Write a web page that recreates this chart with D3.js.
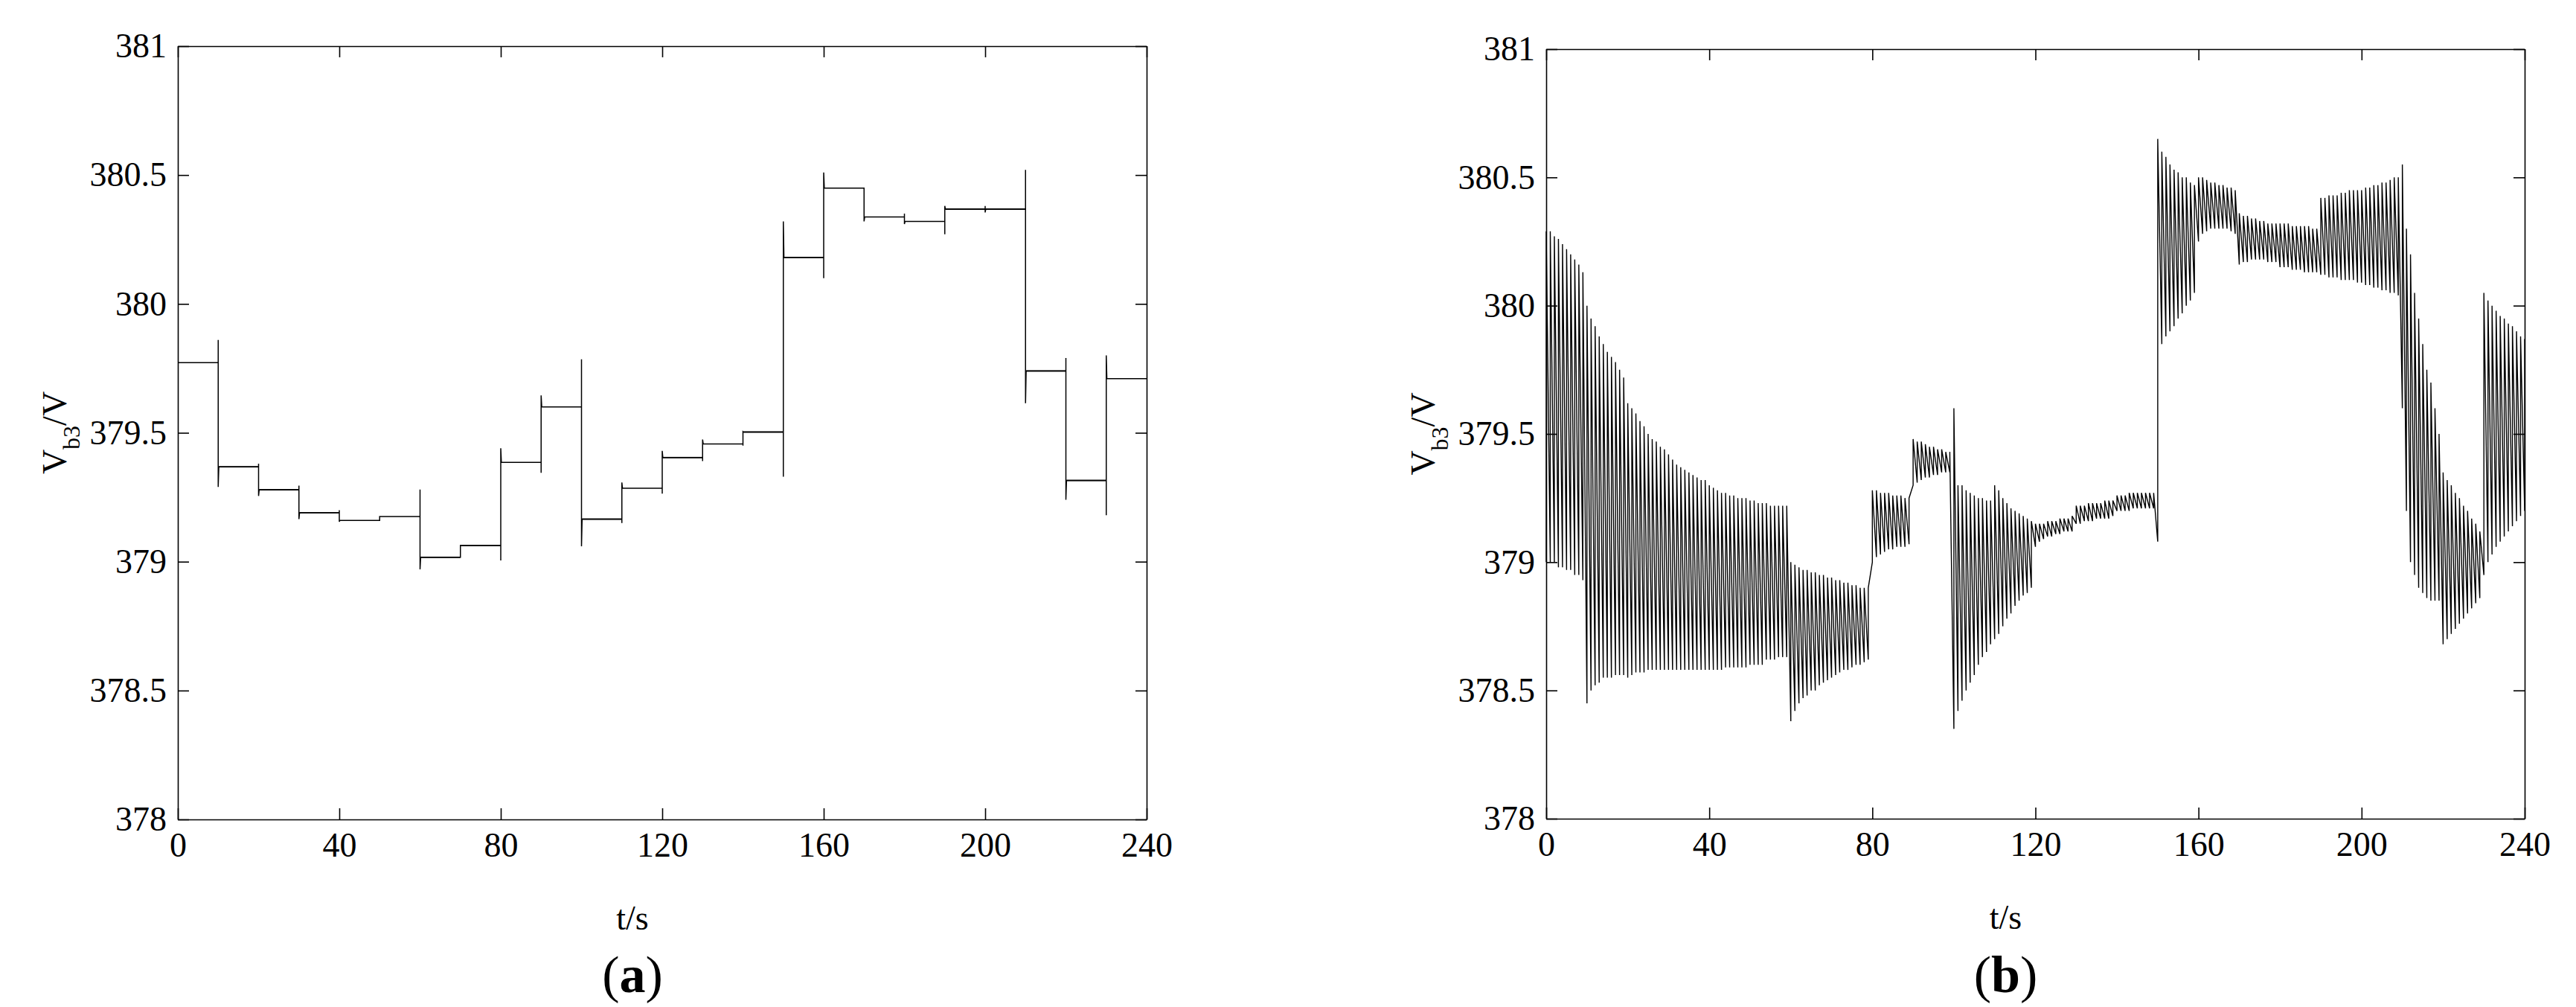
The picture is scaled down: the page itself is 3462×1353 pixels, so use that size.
<!DOCTYPE html>
<html>
<head>
<meta charset="utf-8">
<script src="https://cdn.jsdelivr.net/npm/d3@7"></script>
<style>
  body { margin: 0; background: #fff; }
</style>
</head>
<body>
<svg id="fig" width="3462" height="1353" font-family="'Times New Roman', 'Liberation Serif', serif"></svg>
<script>
// ---- data, panel (a): stepwise bus voltage, one level per 10 s interval
const segStartA = [0, 10, 20, 30, 40, 50, 60, 70, 80, 90, 100, 110, 120, 130, 140, 150, 160, 170, 180, 190, 200, 210, 220, 230];
const levelA = [379.772, 379.368, 379.279, 379.19, 379.16, 379.175, 379.017, 379.063, 379.385, 379.6, 379.165, 379.285,
                379.404, 379.457, 379.503, 380.18, 380.449, 380.337, 380.32, 380.368, 380.368, 379.74, 379.315, 379.71];
// transient extremes at each switching instant (first then second excursion)
const spikeFirstA = [null, 379.86, 379.38, 379.295, 379.2, 379.16, 379.28, 379.017, 379.005, 379.345, 379.785, 379.15,
                     379.264, 379.39, 379.45, 379.33, 380.1, 380.449, 380.35, 380.27, 380.38, 380.52, 379.79, 379.18];
const spikeSecondA = [null, 379.29, 379.255, 379.165, 379.155, 379.175, 378.97, 379.063, 379.44, 379.645, 379.06, 379.307,
                      379.43, 379.474, 379.505, 380.32, 380.51, 380.32, 380.31, 380.38, 380.355, 379.615, 379.24, 379.8];
// small ripple amplitude (V) around each level
const rippleA = [0, 0.0025, 0.0025, 0.0025, 0, 0, 0.0025, 0.0025, 0, 0, 0.0025, 0, 0.0025, 0, 0.0025, 0.0025,
                 0, 0, 0, 0.0025, 0.0025, 0.0025, 0.0025, 0];

// ---- data, panel (b): oscillating bus voltage, peak and trough of each 1 s cycle (t = 0..240 s)
const peakB = [
  380.29, 380.29, 380.27, 380.26, 380.24, 380.22, 380.2, 380.18, 380.16, 380.13,
  380.0, 379.95, 379.92, 379.88, 379.85, 379.82, 379.8, 379.78, 379.75, 379.72,
  379.62, 379.6, 379.58, 379.55, 379.53, 379.5, 379.48, 379.47, 379.45, 379.44,
  379.42, 379.4, 379.38, 379.37, 379.36, 379.35, 379.34, 379.33, 379.32, 379.32,
  379.3, 379.29, 379.28, 379.27, 379.27, 379.26, 379.26, 379.25, 379.25, 379.25,
  379.24, 379.24, 379.23, 379.23, 379.23, 379.22, 379.22, 379.22, 379.22, 379.22,
  379.0, 378.99, 378.98, 378.97, 378.97, 378.96, 378.96, 378.95, 378.95, 378.94,
  378.94, 378.93, 378.93, 378.92, 378.92, 378.91, 378.91, 378.9, 378.9, 378.9,
  379.28, 379.28, 379.27, 379.27, 379.27, 379.26, 379.26, 379.26, 379.25, 379.25,
  379.48, 379.47, 379.47, 379.46, 379.45, 379.45, 379.44, 379.44, 379.43, 379.43,
  379.6, 379.3, 379.3, 379.28, 379.27, 379.26, 379.25, 379.25, 379.24, 379.24,
  379.3, 379.28, 379.25, 379.23, 379.21, 379.2, 379.19, 379.18, 379.17, 379.16,
  379.15, 379.15, 379.15, 379.16, 379.16, 379.16, 379.17, 379.17, 379.17, 379.18,
  379.22, 379.22, 379.22, 379.23, 379.23, 379.23, 379.23, 379.24, 379.24, 379.24,
  379.26, 379.26, 379.26, 379.27, 379.27, 379.27, 379.27, 379.27, 379.27, 379.27,
  380.65, 380.6, 380.58, 380.55, 380.53, 380.52, 380.5, 380.5, 380.48, 380.47,
  380.5, 380.5, 380.49, 380.48, 380.48, 380.47, 380.47, 380.46, 380.46, 380.45,
  380.36, 380.35, 380.35, 380.34, 380.34, 380.33, 380.33, 380.32, 380.32, 380.32,
  380.32, 380.32, 380.32, 380.31, 380.31, 380.31, 380.31, 380.31, 380.3, 380.3,
  380.42, 380.42, 380.43, 380.43, 380.43, 380.44, 380.44, 380.45, 380.45, 380.45,
  380.45, 380.46, 380.46, 380.47, 380.47, 380.48, 380.48, 380.49, 380.5, 380.5,
  380.55, 380.3, 380.2, 380.05, 379.95, 379.85, 379.75, 379.7, 379.6, 379.5,
  379.35, 379.32, 379.3, 379.27, 379.25, 379.22, 379.2, 379.17, 379.15, 379.12,
  380.05, 380.02, 380.0, 379.98, 379.96, 379.95, 379.93, 379.92, 379.9, 379.88, 379.87
];
const troughB = [
  379.0, 379.0, 379.0, 378.98, 378.98, 378.97, 378.97, 378.95, 378.95, 378.93,
  378.45, 378.5, 378.52, 378.53, 378.55, 378.55, 378.55, 378.56, 378.56, 378.56,
  378.55, 378.56, 378.57, 378.57, 378.57, 378.58, 378.58, 378.58, 378.58, 378.58,
  378.58, 378.58, 378.58, 378.58, 378.58, 378.58, 378.58, 378.58, 378.58, 378.58,
  378.58, 378.58, 378.58, 378.58, 378.59, 378.59, 378.59, 378.59, 378.59, 378.59,
  378.6, 378.6, 378.6, 378.6, 378.62, 378.62, 378.62, 378.63, 378.63, 378.63,
  378.38, 378.42, 378.45, 378.47, 378.48, 378.5, 378.5, 378.52, 378.53, 378.54,
  378.55, 378.56, 378.57, 378.58, 378.58, 378.59, 378.6, 378.6, 378.61, 378.62,
  379.0, 379.02, 379.03, 379.04, 379.05, 379.05, 379.06, 379.06, 379.06, 379.07,
  379.3, 379.31, 379.32, 379.33, 379.33, 379.34, 379.34, 379.35, 379.35, 379.35,
  378.35, 378.42, 378.46, 378.5, 378.53, 378.56, 378.6, 378.63, 378.65, 378.68,
  378.7, 378.72, 378.75, 378.78, 378.8, 378.83, 378.85, 378.87, 378.88, 378.9,
  379.06, 379.08, 379.09, 379.1, 379.1, 379.11, 379.11, 379.12, 379.12, 379.12,
  379.15, 379.15, 379.16, 379.16, 379.16, 379.17, 379.17, 379.17, 379.17, 379.18,
  379.2, 379.2, 379.2, 379.2, 379.21, 379.21, 379.21, 379.21, 379.21, 379.21,
  379.08, 379.85, 379.88, 379.9, 379.92, 379.95, 379.97, 380.0, 380.02, 380.05,
  380.25, 380.28, 380.29, 380.3, 380.3, 380.3, 380.3, 380.3, 380.29, 380.28,
  380.16, 380.17, 380.17, 380.18, 380.18, 380.18, 380.18, 380.17, 380.17, 380.17,
  380.15, 380.15, 380.15, 380.14, 380.14, 380.14, 380.13, 380.13, 380.13, 380.13,
  380.12, 380.12, 380.11, 380.11, 380.11, 380.1, 380.1, 380.1, 380.1, 380.09,
  380.09, 380.08, 380.08, 380.07, 380.07, 380.06, 380.06, 380.05, 380.05, 380.04,
  379.6, 379.2, 379.0, 378.95, 378.9, 378.88, 378.86, 378.85, 378.85, 378.85,
  378.68, 378.7, 378.72, 378.74, 378.76, 378.78, 378.8, 378.82, 378.84, 378.86,
  378.95, 379.0, 379.03, 379.06, 379.08, 379.1, 379.12, 379.14, 379.16, 379.18, 379.2
];
const cycleB = d3.range(peakB.length);   // cycle start times, s

const xTicks = [0, 40, 80, 120, 160, 200, 240];
const yTicks = [378, 378.5, 379, 379.5, 380, 380.5, 381];

const SERIF = "'Times New Roman', 'Liberation Serif', serif";
const svg = d3.select("#fig");
const FONT = 46;

function drawPanel(box, tag) {
    const g = svg.append("g").attr("font-family", SERIF);
    const x = d3.scaleLinear().domain([0, 240]).range([box.left, box.right]);
    const y = d3.scaleLinear().domain([378, 381]).range([box.bottom, box.top]);

    // axes with inward ticks on all four sides (box style)
    const axes = [
        [d3.axisBottom(x).tickValues(xTicks).tickSize(-15).tickSizeOuter(0).tickPadding(17), `translate(0,${box.bottom})`],
        [d3.axisTop(x).tickValues(xTicks).tickSize(-15).tickSizeOuter(0).tickFormat(""), `translate(0,${box.top})`],
        [d3.axisLeft(y).tickValues(yTicks).tickSize(-15).tickSizeOuter(0).tickPadding(15).tickFormat(d => d), `translate(${box.left},0)`],
        [d3.axisRight(y).tickValues(yTicks).tickSize(-15).tickSizeOuter(0).tickFormat(""), `translate(${box.right},0)`]
    ];
    for (const [ax, tr] of axes) {
        const a = g.append("g").attr("transform", tr).call(ax)
            .attr("font-family", SERIF).attr("font-size", FONT);
        a.select(".domain").attr("stroke", "#000").attr("stroke-width", 1.6);
        a.selectAll(".tick line").attr("stroke", "#000").attr("stroke-width", 1.6);
        a.selectAll(".tick text").attr("fill", "#000");
    }

    // axis titles
    const ylab = g.append("text")
        .attr("transform", `translate(${box.left - 150},${(box.top + box.bottom) / 2}) rotate(-90)`)
        .attr("text-anchor", "middle")
        .attr("font-size", 46);
    ylab.append("tspan").text("V");
    ylab.append("tspan").text("b3").attr("baseline-shift", "sub").attr("font-size", 32);
    ylab.append("tspan").text("/V");

    g.append("text")
        .attr("x", (box.left + box.right) / 2 - 40)
        .attr("y", box.bottom + 148)
        .attr("text-anchor", "middle")
        .attr("font-size", 46)
        .text("t/s");

    const cap = g.append("text")
        .attr("x", (box.left + box.right) / 2 - 40)
        .attr("y", 1333)
        .attr("text-anchor", "middle")
        .attr("font-size", 70);
    cap.append("tspan").text("(");
    cap.append("tspan").text(tag).attr("font-weight", "bold");
    cap.append("tspan").text(")");

    return {g, x, y};
}

// ---- panel (a)
{
    const {g, x, y} = drawPanel({left: 239, right: 1541, top: 62, bottom: 1101}, "a");
    const pts = [];
    segStartA.forEach((t0, i) => {
        const t1 = i + 1 < segStartA.length ? segStartA[i + 1] : 240;
        if (i > 0) {
            pts.push([t0, spikeFirstA[i]]);
            pts.push([t0, spikeSecondA[i]]);
            pts.push([t0 + 0.15, levelA[i]]);
        } else {
            pts.push([t0, levelA[i]]);
        }
        pts.push([t1, levelA[i]]);
        if (rippleA[i] > 0) {
            g.append("rect")
                .attr("x", x(t0 + 0.15))
                .attr("width", x(t1) - x(t0 + 0.15))
                .attr("y", y(levelA[i] + rippleA[i]))
                .attr("height", y(levelA[i] - rippleA[i]) - y(levelA[i] + rippleA[i]))
                .attr("fill", "#000");
        }
    });
    g.append("path")
        .datum(pts)
        .attr("fill", "none")
        .attr("stroke", "#000")
        .attr("stroke-width", 1.5)
        .attr("d", d3.line().x(d => x(d[0])).y(d => y(d[1])));
}

// ---- panel (b): each cycle rises sharply to its peak, then falls to the next trough
{
    const {g, x, y} = drawPanel({left: 2078, right: 3393, top: 66, bottom: 1100}, "b");
    const pts = [];
    cycleB.forEach((t, i) => {
        pts.push([t, troughB[i]]);
        pts.push([t, peakB[i]]);
    });
    g.append("path")
        .datum(pts)
        .attr("fill", "none")
        .attr("stroke", "#000")
        .attr("stroke-width", 1.4)
        .attr("d", d3.line().x(d => x(d[0])).y(d => y(d[1])));
}
</script>
</body>
</html>
